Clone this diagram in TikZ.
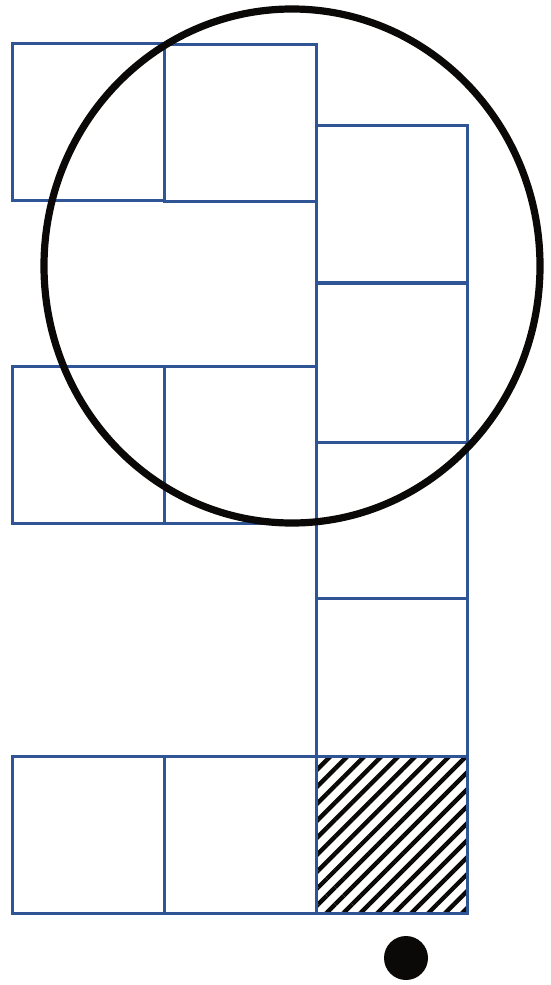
\documentclass[tikz,border=0pt]{standalone}
\usetikzlibrary{patterns.meta,shapes.geometric}
\definecolor{boxblue}{RGB}{47,85,151}
\definecolor{inkblack}{RGB}{10,9,8}
\begin{document}
\begin{tikzpicture}[x=0.5pt,y=-0.5pt,
  cell/.style={draw=boxblue,line width=1.5pt,inner sep=0,outer sep=0,rectangle,anchor=center},
  hatched/.style={cell,pattern={Lines[angle=45,distance=6pt,line width=2.2pt]},pattern color=inkblack}]
\useasboundingbox (0,0) rectangle (551,985);
\node[cell,minimum width=76pt,minimum height=78.5pt] (a) at (88,121.5) {};
\node[cell,minimum width=76pt,minimum height=78.5pt] (b) at (240,122.5) {};
\node[cell,minimum width=75.5pt,minimum height=78.5pt] (c) at (391.5,203.5) {};
\node[cell,minimum width=75.5pt,minimum height=79.5pt] (d) at (391.5,362.5) {};
\node[cell,minimum width=75.5pt,minimum height=78pt] (e) at (391.5,520) {};
\node[cell,minimum width=75.5pt,minimum height=79pt] (f) at (391.5,677) {};
\node[cell,minimum width=76pt,minimum height=78.5pt] (h) at (88,444.5) {};
\node[cell,minimum width=76pt,minimum height=78.5pt] (i) at (240,444.5) {};
\node[cell,minimum width=76pt,minimum height=78.5pt] (j) at (88,834.5) {};
\node[cell,minimum width=76pt,minimum height=78.5pt] (k) at (240,834.5) {};
\node[hatched,minimum width=75.5pt,minimum height=78.5pt] (g) at (391.5,834.5) {};
\node[draw=inkblack,line width=3.6pt,ellipse,inner sep=0,minimum width=248pt,minimum height=257pt] (ring) at (292,266) {};
\node[circle,fill=inkblack,inner sep=0,minimum size=22pt] (dot) at (406,958) {};
\end{tikzpicture}
\end{document}
